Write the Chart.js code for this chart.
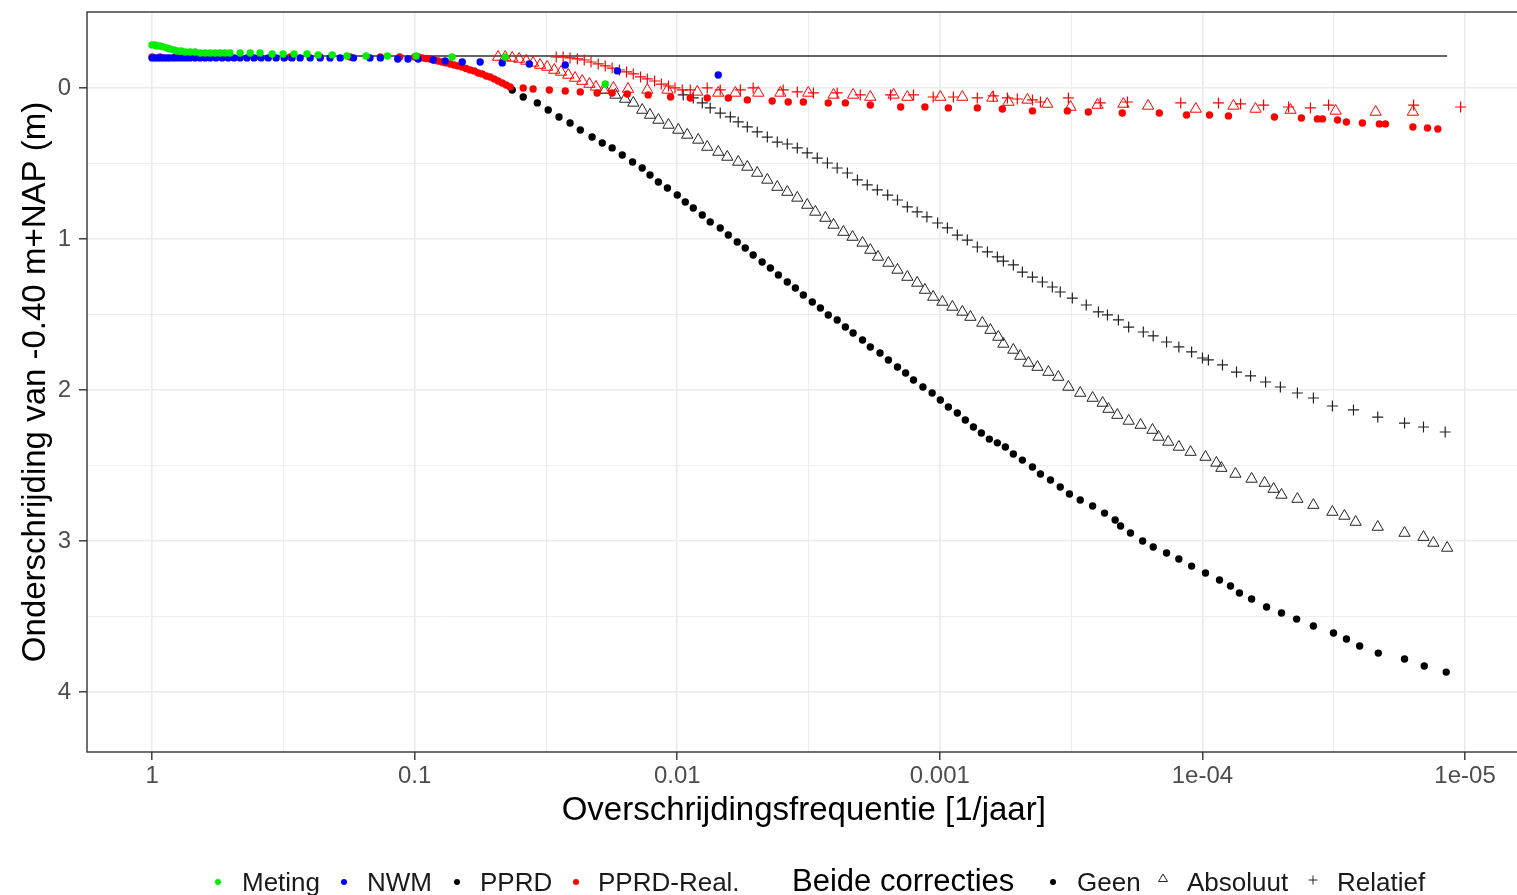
<!DOCTYPE html>
<html><head><meta charset="utf-8">
<script src="https://cdn.jsdelivr.net/npm/chart.js@4.4.0/dist/chart.umd.min.js"></script>
<style>
html,body{margin:0;padding:0;overflow:hidden;background:#fff;}
#wrap{position:relative;width:1517px;height:895px;overflow:hidden;background:#fff;}
canvas{position:absolute;left:0;top:0;}
.lg{position:absolute;font-family:"Liberation Sans",Arial,sans-serif;font-size:26px;line-height:30px;color:#1a1a1a;white-space:nowrap;top:867px;}
.lt{font-size:31px;line-height:36px;top:863px;color:#000;}
</style></head><body>
<div id="wrap">
<canvas id="c" width="1528" height="895" style="width:1528px;height:895px"></canvas>
<div class="lg" style="left:242px">Meting</div>
<div class="lg" style="left:367px">NWM</div>
<div class="lg" style="left:480px">PPRD</div>
<div class="lg" style="left:598px">PPRD-Real.</div>
<div class="lg lt" style="left:792px">Beide correcties</div>
<div class="lg" style="left:1077px">Geen</div>
<div class="lg" style="left:1187px">Absoluut</div>
<div class="lg" style="left:1337px">Relatief</div>
</div>
<script>
// ---- axis ticks ----
const xTickValues = [1, 0.1, 0.01, 0.001, 1e-4, 1e-5];
const xTickLabels = ['1', '0.1', '0.01', '0.001', '1e-04', '1e-05'];
const xMinorValues = [0.316, 0.0316, 0.00316, 0.000316, 3.16e-5];
const yTickValues = [0, 1, 2, 3, 4];
const yMinorValues = [0.5, 1.5, 2.5, 3.5];

// ---- reference line ----
const refLineFreq = [1, 1.17e-5];
const refLineLevel = [-0.212, -0.212];

// ---- Meting ----
const metingFreq = [1, 0.974, 0.957, 0.932, 0.908, 0.877, 0.854, 0.825, 0.803, 0.775, 0.749, 0.717, 0.686, 0.656, 0.628, 0.601, 0.575, 0.551, 0.527, 0.505, 0.462, 0.423, 0.388, 0.349, 0.317, 0.288, 0.257, 0.233, 0.206, 0.181, 0.153, 0.127, 0.0987, 0.0720, 0.0452, 0.0188];
const metingLevel = [-0.285, -0.285, -0.278, -0.278, -0.272, -0.265, -0.258, -0.252, -0.245, -0.245, -0.238, -0.238, -0.238, -0.232, -0.232, -0.232, -0.232, -0.232, -0.232, -0.232, -0.232, -0.232, -0.232, -0.225, -0.225, -0.225, -0.225, -0.219, -0.219, -0.212, -0.212, -0.212, -0.212, -0.205, -0.205, -0.026];

// ---- NWM ----
const nwmFreq = [1, 0.974, 0.949, 0.924, 0.900, 0.877, 0.854, 0.825, 0.796, 0.769, 0.742, 0.717, 0.686, 0.656, 0.628, 0.601, 0.571, 0.541, 0.513, 0.487, 0.462, 0.435, 0.409, 0.384, 0.361, 0.337, 0.314, 0.293, 0.273, 0.250, 0.229, 0.210, 0.192, 0.171, 0.148, 0.135, 0.116, 0.106, 0.0970, 0.0850, 0.0765, 0.0659, 0.0563, 0.0464, 0.0366, 0.0267, 0.0169, 0.00698];
const nwmLevel = [-0.199, -0.199, -0.199, -0.199, -0.199, -0.199, -0.199, -0.199, -0.199, -0.199, -0.199, -0.199, -0.199, -0.199, -0.199, -0.199, -0.199, -0.199, -0.199, -0.199, -0.199, -0.199, -0.199, -0.199, -0.199, -0.199, -0.199, -0.199, -0.199, -0.199, -0.199, -0.199, -0.199, -0.199, -0.199, -0.199, -0.192, -0.192, -0.192, -0.185, -0.179, -0.172, -0.172, -0.166, -0.159, -0.152, -0.113, -0.086];

// ---- PPRD, Geen ----
const pprdGeenFreq = [0.0425, 0.0386, 0.0341, 0.0310, 0.0282, 0.0256, 0.0234, 0.0211, 0.0193, 0.0177, 0.0162, 0.0148, 0.0136, 0.0127, 0.0118, 0.0109, 0.0100, 0.00932, 0.00869, 0.00803, 0.00749, 0.00686, 0.00639, 0.00591, 0.00551, 0.00514, 0.00475, 0.00442, 0.00412, 0.00381, 0.00355, 0.00331, 0.00306, 0.00285, 0.00266, 0.00246, 0.00229, 0.00214, 0.00197, 0.00184, 0.00169, 0.00157, 0.00145, 0.00135, 0.00126, 0.00116, 0.00107, 0.000996, 0.000928, 0.000858, 0.000800, 0.000745, 0.000695, 0.000648, 0.000604, 0.000563, 0.000525, 0.000485, 0.000444, 0.000414, 0.000379, 0.000348, 0.000321, 0.000292, 0.000262, 0.000236, 0.000215, 0.000205, 0.000188, 0.000169, 0.000154, 0.000137, 0.000123, 0.000110, 9.74e-5, 8.61e-5, 7.82e-5, 7.23e-5, 6.50e-5, 5.70e-5, 5.00e-5, 4.38e-5, 3.78e-5, 3.17e-5, 2.83e-5, 2.52e-5, 2.14e-5, 1.70e-5, 1.43e-5, 1.18e-5];
const pprdGeenLevel = [0.013, 0.060, 0.099, 0.146, 0.192, 0.232, 0.278, 0.325, 0.364, 0.397, 0.444, 0.490, 0.530, 0.576, 0.623, 0.662, 0.709, 0.755, 0.795, 0.841, 0.887, 0.927, 0.974, 1.020, 1.060, 1.106, 1.152, 1.192, 1.238, 1.285, 1.325, 1.371, 1.417, 1.457, 1.503, 1.536, 1.583, 1.623, 1.669, 1.715, 1.755, 1.801, 1.848, 1.887, 1.934, 1.980, 2.020, 2.066, 2.113, 2.152, 2.199, 2.245, 2.285, 2.325, 2.350, 2.377, 2.424, 2.464, 2.510, 2.556, 2.596, 2.642, 2.689, 2.728, 2.768, 2.815, 2.861, 2.901, 2.947, 3.000, 3.040, 3.079, 3.119, 3.166, 3.212, 3.258, 3.298, 3.344, 3.384, 3.437, 3.477, 3.517, 3.563, 3.609, 3.649, 3.695, 3.742, 3.781, 3.828, 3.868];

// ---- PPRD, Absoluut ----
const pprdAbsFreq = [0.0188, 0.0172, 0.0158, 0.0147, 0.0136, 0.0127, 0.0118, 0.0108, 0.00991, 0.00916, 0.00832, 0.00769, 0.00698, 0.00645, 0.00586, 0.00541, 0.00496, 0.00454, 0.00416, 0.00381, 0.00349, 0.00320, 0.00298, 0.00273, 0.00254, 0.00233, 0.00215, 0.00197, 0.00184, 0.00172, 0.00157, 0.00145, 0.00133, 0.00122, 0.00114, 0.00106, 0.000978, 0.000896, 0.000821, 0.000765, 0.000689, 0.000642, 0.000599, 0.000573, 0.000525, 0.000494, 0.000460, 0.000425, 0.000386, 0.000354, 0.000324, 0.000292, 0.000262, 0.000240, 0.000228, 0.000211, 0.000191, 0.000172, 0.000155, 0.000147, 0.000135, 0.000123, 0.000111, 9.74e-5, 8.85e-5, 8.47e-5, 7.49e-5, 6.50e-5, 5.80e-5, 5.36e-5, 5.00e-5, 4.35e-5, 3.78e-5, 3.20e-5, 2.88e-5, 2.61e-5, 2.15e-5, 1.70e-5, 1.44e-5, 1.32e-5, 1.17e-5];
const pprdAbsLevel = [0.013, 0.046, 0.073, 0.099, 0.146, 0.179, 0.212, 0.245, 0.278, 0.311, 0.344, 0.391, 0.424, 0.457, 0.490, 0.523, 0.563, 0.609, 0.656, 0.689, 0.728, 0.775, 0.821, 0.861, 0.907, 0.954, 0.987, 1.026, 1.073, 1.119, 1.159, 1.205, 1.252, 1.291, 1.338, 1.384, 1.417, 1.450, 1.483, 1.517, 1.556, 1.603, 1.649, 1.695, 1.735, 1.775, 1.821, 1.848, 1.881, 1.914, 1.980, 2.020, 2.053, 2.086, 2.126, 2.166, 2.205, 2.232, 2.265, 2.311, 2.344, 2.377, 2.411, 2.444, 2.483, 2.517, 2.556, 2.589, 2.616, 2.656, 2.695, 2.722, 2.762, 2.808, 2.834, 2.874, 2.907, 2.947, 2.974, 3.013, 3.046];

// ---- PPRD, Relatief ----
const pprdRelFreq = [0.00949, 0.00869, 0.00803, 0.00749, 0.00686, 0.00628, 0.00586, 0.00541, 0.00496, 0.00454, 0.00416, 0.00381, 0.00349, 0.00320, 0.00293, 0.00268, 0.00246, 0.00225, 0.00206, 0.00189, 0.00173, 0.00158, 0.00145, 0.00133, 0.00122, 0.00112, 0.00102, 0.000936, 0.000858, 0.000786, 0.000720, 0.000659, 0.000604, 0.000573, 0.000525, 0.000485, 0.000444, 0.000407, 0.000373, 0.000348, 0.000313, 0.000277, 0.000249, 0.000230, 0.000209, 0.000191, 0.000168, 0.000154, 0.000137, 0.000123, 0.000110, 1.00e-4, 9.49e-5, 8.39e-5, 7.42e-5, 6.56e-5, 5.75e-5, 5.05e-5, 4.35e-5, 3.78e-5, 3.20e-5, 2.66e-5, 2.15e-5, 1.70e-5, 1.44e-5, 1.19e-5];
const pprdRelLevel = [0.046, 0.066, 0.099, 0.132, 0.166, 0.192, 0.225, 0.258, 0.291, 0.325, 0.358, 0.371, 0.397, 0.430, 0.464, 0.497, 0.530, 0.563, 0.609, 0.642, 0.675, 0.709, 0.742, 0.788, 0.821, 0.854, 0.894, 0.927, 0.974, 1.007, 1.053, 1.086, 1.119, 1.146, 1.172, 1.219, 1.252, 1.285, 1.318, 1.351, 1.391, 1.437, 1.483, 1.503, 1.536, 1.583, 1.616, 1.642, 1.682, 1.715, 1.748, 1.788, 1.801, 1.834, 1.881, 1.907, 1.947, 1.980, 2.020, 2.053, 2.106, 2.132, 2.179, 2.219, 2.245, 2.278];

// ---- PPRD-Real., Geen ----
const realGeenFreq = [1, 0.932, 0.817, 0.656, 0.505, 0.388, 0.298, 0.229, 0.176, 0.135, 0.114, 0.100, 0.0970, 0.0936, 0.0904, 0.0873, 0.0843, 0.0814, 0.0786, 0.0759, 0.0732, 0.0707, 0.0683, 0.0659, 0.0637, 0.0615, 0.0593, 0.0573, 0.0553, 0.0534, 0.0516, 0.0498, 0.0481, 0.0464, 0.0448, 0.0433, 0.0386, 0.0354, 0.0307, 0.0267, 0.0234, 0.0202, 0.0177, 0.0155, 0.0129, 0.0106, 0.00892, 0.00769, 0.00639, 0.00541, 0.00435, 0.00378, 0.00331, 0.00266, 0.00229, 0.00184, 0.00141, 0.00114, 0.000928, 0.000720, 0.000578, 0.000444, 0.000327, 0.000272, 0.000202, 0.000146, 0.000115, 9.40e-5, 7.96e-5, 5.32e-5, 4.20e-5, 3.65e-5, 3.49e-5, 3.06e-5, 2.83e-5, 2.46e-5, 2.12e-5, 2.01e-5, 1.58e-5, 1.39e-5, 1.27e-5];
const realGeenLevel = [-0.205, -0.205, -0.205, -0.205, -0.205, -0.205, -0.205, -0.205, -0.205, -0.205, -0.205, -0.205, -0.205, -0.199, -0.195, -0.192, -0.185, -0.179, -0.172, -0.166, -0.159, -0.152, -0.146, -0.139, -0.129, -0.119, -0.113, -0.099, -0.093, -0.079, -0.073, -0.060, -0.046, -0.033, -0.020, -0.007, 0.000, 0.007, 0.013, 0.020, 0.026, 0.033, 0.033, 0.040, 0.046, 0.060, 0.066, 0.066, 0.066, 0.079, 0.086, 0.093, 0.093, 0.099, 0.099, 0.113, 0.126, 0.126, 0.132, 0.132, 0.139, 0.152, 0.152, 0.159, 0.166, 0.166, 0.179, 0.179, 0.185, 0.192, 0.199, 0.205, 0.205, 0.212, 0.225, 0.232, 0.238, 0.238, 0.258, 0.265, 0.272];

// ---- PPRD-Real., Absoluut ----
const realAbsFreq = [0.0481, 0.0452, 0.0425, 0.0400, 0.0376, 0.0354, 0.0333, 0.0313, 0.0294, 0.0277, 0.0260, 0.0245, 0.0230, 0.0216, 0.0204, 0.0191, 0.0175, 0.0154, 0.0130, 0.0109, 0.00839, 0.00698, 0.00601, 0.00491, 0.00405, 0.00317, 0.00254, 0.00214, 0.00184, 0.00150, 0.00133, 0.000996, 0.000821, 0.000631, 0.000548, 0.000464, 0.000390, 0.000318, 0.000251, 0.000200, 0.000161, 0.000106, 7.62e-5, 6.28e-5, 4.62e-5, 3.11e-5, 2.19e-5, 1.58e-5];
const realAbsLevel = [-0.205, -0.205, -0.199, -0.192, -0.179, -0.166, -0.152, -0.139, -0.119, -0.106, -0.086, -0.066, -0.046, -0.026, -0.007, 0.013, 0.000, 0.007, 0.013, 0.013, 0.026, 0.033, 0.033, 0.033, 0.033, 0.033, 0.046, 0.046, 0.060, 0.046, 0.060, 0.060, 0.060, 0.066, 0.093, 0.079, 0.106, 0.126, 0.113, 0.106, 0.119, 0.139, 0.119, 0.139, 0.146, 0.152, 0.159, 0.159];

// ---- PPRD-Real., Relatief ----
const realRelFreq = [0.0289, 0.0272, 0.0256, 0.0240, 0.0226, 0.0213, 0.0200, 0.0188, 0.0177, 0.0166, 0.0156, 0.0147, 0.0138, 0.0130, 0.0122, 0.0115, 0.0108, 0.0102, 0.00957, 0.00892, 0.00769, 0.00686, 0.00575, 0.00514, 0.00395, 0.00349, 0.00303, 0.00246, 0.00201, 0.00154, 0.00126, 0.00106, 0.000888, 0.000720, 0.000626, 0.000553, 0.000507, 0.000444, 0.000414, 0.000324, 0.000245, 0.000193, 0.000121, 8.69e-5, 7.16e-5, 5.85e-5, 4.70e-5, 3.88e-5, 3.31e-5, 1.57e-5, 1.04e-5];
const realRelLevel = [-0.205, -0.205, -0.199, -0.192, -0.185, -0.172, -0.159, -0.146, -0.132, -0.119, -0.106, -0.093, -0.073, -0.060, -0.046, -0.026, -0.013, 0.000, 0.013, 0.013, 0.000, 0.013, 0.013, 0.000, 0.013, 0.026, 0.033, 0.033, 0.046, 0.046, 0.046, 0.060, 0.060, 0.066, 0.053, 0.066, 0.073, 0.079, 0.093, 0.066, 0.099, 0.093, 0.099, 0.099, 0.106, 0.113, 0.126, 0.132, 0.113, 0.113, 0.126];

// ---- build ----
const FONT = '"Liberation Sans", Arial, Helvetica, sans-serif';
Chart.defaults.font.family = FONT;
const pts = (f, l) => f.map((v, i) => ({x: v, y: l[i]}));
const GREEN = '#00ee00', BLUE = '#0000ff', RED = '#ff0000', BLACK = '#000000';
const dot = (label, f, l, c) => ({label, data: pts(f, l), pointStyle: 'circle', pointRadius: 3.7, pointBackgroundColor: c, pointBorderColor: c, pointBorderWidth: 0});
const tri = (label, f, l, c) => ({label, data: pts(f, l), pointStyle: 'triangle', pointRadius: 6.5, pointBackgroundColor: 'rgba(0,0,0,0)', pointBorderColor: c, pointBorderWidth: 1});
const plus = (label, f, l, c) => ({label, data: pts(f, l), pointStyle: 'cross', pointRadius: 5.5, pointBackgroundColor: 'rgba(0,0,0,0)', pointBorderColor: c, pointBorderWidth: 1.2});

const datasets = [
  dot('Meting', metingFreq, metingLevel, GREEN),
  dot('NWM', nwmFreq, nwmLevel, BLUE),
  dot('PPRD-Real. Geen', realGeenFreq, realGeenLevel, RED),
  tri('PPRD-Real. Absoluut', realAbsFreq, realAbsLevel, RED),
  plus('PPRD-Real. Relatief', realRelFreq, realRelLevel, RED),
  dot('PPRD Geen', pprdGeenFreq, pprdGeenLevel, BLACK),
  tri('PPRD Absoluut', pprdAbsFreq, pprdAbsLevel, '#222222'),
  plus('PPRD Relatief', pprdRelFreq, pprdRelLevel, '#222222'),
  {label: 'ref', data: pts(refLineFreq, refLineLevel), showLine: true, borderColor: '#333333', borderWidth: 1.6, pointRadius: 0}
];

const isMajorX = v => xTickValues.some(t => Math.abs(Math.log10(v) - Math.log10(t)) < 1e-6);
const isMajorY = v => yTickValues.indexOf(v) >= 0;

const framePlugin = {
  id: 'frame',
  afterDatasetsDraw(chart) {
    const {ctx, chartArea: a} = chart;
    ctx.save();
    ctx.strokeStyle = '#333333';
    ctx.lineWidth = 1.4;
    ctx.strokeRect(a.left, a.top, a.right - a.left, a.bottom - a.top);
    ctx.restore();
  },
  afterDraw(chart) {
    const ctx = chart.ctx;
    ctx.save();
    const circ = (x, y, r, c) => { ctx.fillStyle = c; ctx.beginPath(); ctx.arc(x, y, r, 0, Math.PI * 2); ctx.fill(); };
    circ(218, 882, 3, GREEN);
    circ(344, 882, 3, BLUE);
    circ(457, 882, 3, BLACK);
    circ(576, 882, 3, RED);
    circ(1053, 882, 3, BLACK);
    ctx.strokeStyle = '#222'; ctx.lineWidth = 1;
    ctx.beginPath(); ctx.moveTo(1163, 874); ctx.lineTo(1167.5, 881.5); ctx.lineTo(1158.5, 881.5); ctx.closePath(); ctx.stroke();
    ctx.beginPath(); ctx.moveTo(1308.5, 880); ctx.lineTo(1317.5, 880); ctx.moveTo(1313, 875.5); ctx.lineTo(1313, 884.5); ctx.stroke();
    ctx.restore();
  }
};

new Chart(document.getElementById('c'), {
  type: 'scatter',
  data: {datasets},
  options: {
    responsive: false,
    animation: false,
    events: [],
    layout: {padding: {top: 12, right: 2, bottom: 60, left: 0}},
    plugins: {legend: {display: false}, tooltip: {enabled: false}},
    scales: {
      x: {
        type: 'logarithmic', reverse: true, bounds: 'data',
        min: 6.15e-6, max: 1.769,
        afterBuildTicks: s => { s.ticks = xTickValues.concat(xMinorValues).sort((a, b) => b - a).map(v => ({value: v})); },
        afterFit: s => { s.height = 83; s.paddingLeft = 0; s.paddingRight = 0; },
        ticks: {
          autoSkip: false, maxRotation: 0, minRotation: 0, padding: 2, color: '#4d4d4d', font: {size: 24},
          callback: v => { const i = xTickValues.findIndex(t => Math.abs(Math.log10(v) - Math.log10(t)) < 1e-6); return i >= 0 ? xTickLabels[i] : ''; }
        },
        grid: {
          color: '#ebebeb',
          lineWidth: c => (c.tick && isMajorX(c.tick.value)) ? 1.6 : 0.9,
          tickLength: 8,
          tickColor: c => (c.tick && isMajorX(c.tick.value)) ? '#333333' : 'rgba(0,0,0,0)',
          tickWidth: 1.4
        },
        border: {display: false},
        title: {display: true, text: 'Overschrijdingsfrequentie [1/jaar]', color: '#000', font: {size: 33}, padding: {top: 0, bottom: 4}}
      },
      y: {
        type: 'linear', reverse: true, bounds: 'data',
        min: -0.503, max: 4.397,
        afterBuildTicks: s => { s.ticks = yTickValues.concat(yMinorValues).sort((a, b) => a - b).map(v => ({value: v})); },
        afterFit: s => { s.width = 87; s.paddingTop = 0; s.paddingBottom = 0; },
        ticks: {
          padding: 8, color: '#4d4d4d', font: {size: 24},
          callback: v => isMajorY(v) ? String(v) : ''
        },
        grid: {
          color: '#ebebeb',
          lineWidth: c => (c.tick && isMajorY(c.tick.value)) ? 1.6 : 0.9,
          tickLength: 8,
          tickColor: c => (c.tick && isMajorY(c.tick.value)) ? '#333333' : 'rgba(0,0,0,0)',
          tickWidth: 1.4
        },
        border: {display: false},
        title: {display: true, text: 'Onderschrijding van -0.40 m+NAP (m)', color: '#000', font: {size: 33}, padding: {top: 16, bottom: 0}}
      }
    }
  },
  plugins: [framePlugin]
});
</script>
</body></html>
